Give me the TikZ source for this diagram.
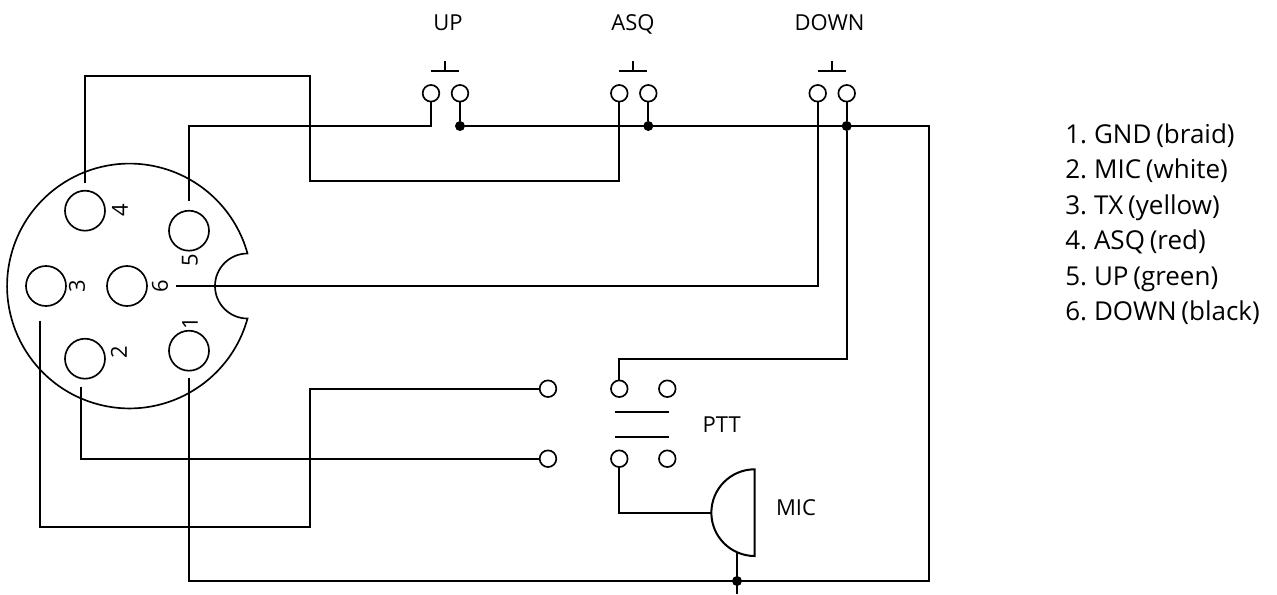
\documentclass[tikz,border=0pt]{standalone}
\usepackage{fontspec}
\setmainfont[WordSpace=0.7]{Open Sans}
\tikzset{
  x=0.75pt,y=-0.75pt,
  wire/.style={line width=1.5pt,line join=miter},
  outline/.style={line width=1.25pt},
  pin/.style={circle,draw,line width=1.25pt,minimum size=30pt,inner sep=0pt,outer sep=0pt},
  term/.style={circle,draw,line width=1.25pt,fill=white,minimum size=12.5pt,inner sep=0pt,outer sep=0pt},
  junction/.style={circle,fill=black,minimum size=7.5pt,inner sep=0pt,outer sep=0pt},
  lab/.style={font=\fontsize{16.5}{17}\selectfont,inner sep=0pt,anchor=base},
  pinlab/.style={font=\fontsize{16.5}{17}\selectfont,inner sep=0pt,rotate=90},
  listlab/.style={font=\fontsize{19.5}{20}\selectfont,inner sep=0pt,anchor=base west},
}
\begin{document}
\begin{tikzpicture}
\useasboundingbox (0,0) rectangle (1277,594);
% plug body
\draw[outline] (247.5,253.5) arc[start angle=-90,end angle=-270,radius=32.5]
  arc[start angle=15.4,end angle=344.6,radius=122.4] -- cycle;
% pins
\node[pin] (p4) at (85,210.7) {};
\node[pin] (p5) at (189,230.7) {};
\node[pin] (p3) at (46,286) {};
\node[pin] (p6) at (127,286) {};
\node[pin] (p2) at (85,358.7) {};
\node[pin] (p1) at (189,350.7) {};
\node[pinlab] (l4) at (120,210) {4};
\node[pinlab] (l5) at (190,260) {5};
\node[pinlab] (l3) at (77,286) {3};
\node[pinlab] (l6) at (160,286) {6};
\node[pinlab] (l2) at (119,352) {2};
\node[pinlab] (l1) at (190,323) {1};
% free wire ends at the pins
\coordinate (e4) at (85,183);
\coordinate (e5) at (189,201);
\coordinate (e6) at (176,286);
\coordinate (e3) at (40.3,320.7);
\coordinate (e2) at (80.7,386.7);
\coordinate (e1) at (189,378);
\coordinate (gnd) at (737,594);
% switches
\foreach \n/\xa/\xb/\s in {u/431/460/445,a/619.3/648.3/633,d/817.7/846.7/831.7}{
  \node[term] (\n l) at (\xa,93.3) {};
  \node[term] (\n r) at (\xb,93.3) {};
  \coordinate (\n bl) at (\xa,71);
  \coordinate (\n br) at (\xb-1,71);
  \coordinate (\n st) at (\s,71);
  \coordinate (\n tp) at (\s,60.7);
  \draw[wire] (\n bl) -- (\n br);
  \draw[wire] (\n st) -- (\n tp);
}
\node[lab] (tu) at (448,30.7) {UP};
\node[lab] (ta) at (633,30.7) {ASQ};
\node[lab] (td) at (829.5,30.7) {DOWN};
% junctions
\node[junction] (ju) at (460,126) {};
\node[junction] (ja) at (648.3,126) {};
\node[junction] (jd) at (846.7,126) {};
\node[junction] (jm) at (737,581) {};
% PTT
\node[term] (t1) at (548,388.7) {};
\node[term] (t2) at (548,458.7) {};
\node[term] (s1) at (619.3,388.7) {};
\node[term] (s2) at (667.3,388.7) {};
\node[term] (s3) at (619.3,458.7) {};
\node[term] (s4) at (667.3,458.7) {};
\draw[wire] (615,411.7) -- (669.3,411.7);
\draw[wire] (615,437.3) -- (669.3,437.3);
\node[lab] (ptt) at (721.7,432.7) {PTT};
% microphone
\coordinate (mt) at (754.7,469.3);
\coordinate (ml) at (711.35,512.65);
\coordinate (md) at (737,552.3);
\draw[wire] (mt) arc[start angle=-90,end angle=-270,radius=43.35] -- cycle;
\node[lab] (mic) at (796,515.7) {MIC};
% wires
\draw[wire] (e4) -- (85,76) -- (310,76) -- (310,181) -- (619.3,181) -- (al);
\draw[wire] (e5) -- (189,126) -- (431,126) -- (ul);
\draw[wire] (e6) -- (817.7,286) -- (dl);
\draw[wire] (ur) -- (ju);
\draw[wire] (ar) -- (ja);
\draw[wire] (dr) -- (jd);
\draw[wire] (ju) -- (929,126) -- (929,581) -- (189,581) -- (e1);
\draw[wire] (jd) -- (846.7,359) -- (619.3,359) -- (s1);
\draw[wire] (e3) -- (40.3,527) -- (310,527) -- (310,388.7) -- (t1);
\draw[wire] (e2) -- (80.7,458.7) -- (t2);
\draw[wire] (s3) -- (619.3,512.65) -- (ml);
\draw[wire] (md) -- (gnd);
% legend
\node[listlab] (n1) at (1065,143.3) {1. GND (braid)};
\node[listlab] (n2) at (1065,178.8) {2. MIC (white)};
\node[listlab] (n3) at (1065,214.3) {3. TX (yellow)};
\node[listlab] (n4) at (1065,249.8) {4. ASQ (red)};
\node[listlab] (n5) at (1065,285.3) {5. UP (green)};
\node[listlab] (n6) at (1065,320.8) {6. DOWN (black)};
\end{tikzpicture}
\end{document}
